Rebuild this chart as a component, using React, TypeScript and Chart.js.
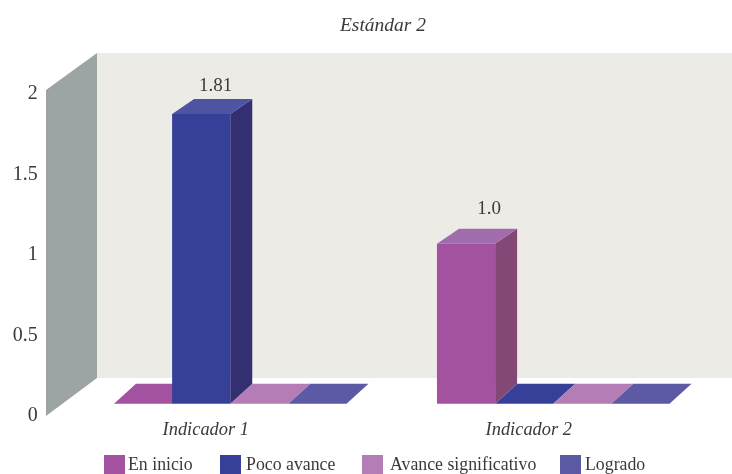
import React, { useEffect, useRef } from "react";
import { Chart, registerables } from "chart.js";

Chart.register(...registerables);

const TITLE = "Estándar 2";
const categories = ["Indicador 1", "Indicador 2"];
const enInicio = [0, 1.0];
const pocoAvance = [1.81, 0];
const avanceSignificativo = [0, 0];
const logrado = [0, 0];
const valueLabels: Record<string, string> = { "1.81": "1.81", "1": "1.0" };

const SERIF = "'Liberation Serif', serif";
const TEXT = "#3a3a3a";

// front, side and top face colours of each series
const faces = [
  { front: "#A2529F", side: "#844877", top: "#A06CAC", labelDx: 23, labelLift: 35 },
  { front: "#364099", side: "#342F71", top: "#4D55A2", labelDx: 14.5, labelLift: 28 },
  { front: "#B57DB6", side: "#97679A", top: "#C093C2", labelDx: 0, labelLift: 30 },
  { front: "#5C59A5", side: "#494785", top: "#7270B2", labelDx: 0, labelLift: 30 },
];

// legend swatch and text offsets along the bottom row
const legendSlots = [
  { swatch: 104, text: 128 },
  { swatch: 220, text: 246 },
  { swatch: 362, text: 390 },
  { swatch: 560, text: 585 },
];

const DEPTH_X = 22;
const DEPTH_TOP = 15;
const DEPTH_FLOOR = 20;

function poly(ctx: CanvasRenderingContext2D, pts: number[][], fill: string) {
  ctx.fillStyle = fill;
  ctx.beginPath();
  pts.forEach(([x, y], i) => (i ? ctx.lineTo(x, y) : ctx.moveTo(x, y)));
  ctx.closePath();
  ctx.fill();
}

const stage = {
  id: "stage",
  beforeDraw(chart: any) {
    const { ctx, chartArea: a, width } = chart;
    // back wall and left wall
    ctx.save();
    ctx.fillStyle = "#ECEBE6";
    ctx.fillRect(97, a.top - 41, width - 97, a.bottom - a.top + 3);
    poly(ctx, [[46, a.top - 4], [97, a.top - 41], [97, a.bottom - 38], [46, a.bottom]], "#9CA4A4");
    // title
    ctx.fillStyle = TEXT;
    ctx.font = `italic 19.5px ${SERIF}`;
    ctx.textAlign = "center";
    ctx.textBaseline = "middle";
    ctx.fillText(TITLE, 383, 26);
    // legend
    ctx.font = `17.8px ${SERIF}`;
    ctx.textAlign = "left";
    chart.data.datasets.forEach((ds: any, i: number) => {
      const slot = legendSlots[i];
      ctx.fillStyle = ds.backgroundColor;
      ctx.fillRect(slot.swatch, 455, 21, 19);
      ctx.fillStyle = TEXT;
      ctx.fillText(ds.label, slot.text, 465);
    });
    ctx.restore();
  },
  beforeDatasetsDraw(chart: any) {
    const { ctx } = chart;
    ctx.save();
    const each = (fn: (bar: any, i: number, value: number) => void) =>
      chart.data.datasets.forEach((ds: any, i: number) =>
        chart.getDatasetMeta(i).data.forEach((bar: any, j: number) => fn(bar, i, ds.data[j]))
      );
    // floor tiles of empty bars sit underneath everything else
    each((bar, i, value) => {
      if (value !== 0) return;
      const l = bar.x - bar.width / 2;
      const r = bar.x + bar.width / 2;
      const b = bar.base;
      poly(ctx, [[l, b], [r, b], [r + DEPTH_X, b - DEPTH_FLOOR], [l + DEPTH_X, b - DEPTH_FLOOR]], faces[i].front);
    });
    // side and top faces of raised bars
    each((bar, i, value) => {
      if (value === 0) return;
      const r = bar.x + bar.width / 2;
      const l = bar.x - bar.width / 2;
      const t = bar.y;
      const b = bar.base;
      poly(ctx, [[r, t], [r + DEPTH_X, t - DEPTH_TOP], [r + DEPTH_X, b - DEPTH_FLOOR], [r, b]], faces[i].side);
      poly(ctx, [[l, t], [l + DEPTH_X, t - DEPTH_TOP], [r + DEPTH_X, t - DEPTH_TOP], [r, t]], faces[i].top);
    });
    ctx.restore();
  },
  afterDatasetsDraw(chart: any) {
    const { ctx } = chart;
    ctx.save();
    ctx.fillStyle = TEXT;
    ctx.font = `19px ${SERIF}`;
    ctx.textAlign = "center";
    ctx.textBaseline = "middle";
    chart.data.datasets.forEach((ds: any, i: number) =>
      chart.getDatasetMeta(i).data.forEach((bar: any, j: number) => {
        const value = ds.data[j];
        if (value === 0) return;
        ctx.fillText(valueLabels[String(value)], bar.x + faces[i].labelDx, bar.y - faces[i].labelLift);
      })
    );
    ctx.restore();
  },
};

export default function App() {
  const ref = useRef<HTMLCanvasElement>(null);
  useEffect(() => {
    const seriesValues = [enInicio, pocoAvance, avanceSignificativo, logrado];
    const names = ["En inicio", "Poco avance", "Avance significativo", "Logrado"];
    const chart = new Chart(ref.current!, {
      type: "bar",
      plugins: [stage],
      data: {
        labels: categories,
        datasets: names.map((label, i) => ({
          label,
          data: seriesValues[i],
          yAxisID: "yBars",
          backgroundColor: faces[i].front,
          borderWidth: 0,
          categoryPercentage: 0.72,
          barPercentage: 1,
        })),
      },
      options: {
        responsive: false,
        animation: false,
        layout: { padding: { top: 94, right: 17.25, bottom: 28, left: 0 } },
        plugins: { legend: { display: false }, title: { display: false }, tooltip: { enabled: false } },
        scales: {
          x: {
            grid: { display: false },
            border: { display: false },
            afterFit: (s: any) => { s.height = 30; },
            ticks: {
              color: TEXT,
              padding: -5,
              labelOffset: -24.5,
              maxRotation: 0,
              font: { family: SERIF, size: 18.4, style: "italic" },
            },
          },
          y: {
            min: 0,
            max: 2,
            position: "left",
            grid: { display: false, drawTicks: false },
            border: { display: false },
            afterFit: (s: any) => { s.width = 68.75; },
            ticks: {
              stepSize: 0.5,
              color: TEXT,
              padding: 31,
              callback: (v: number) => String(v),
              font: { family: SERIF, size: 20 },
            },
          },
          // bars stand on the floor, slightly above the axis zero
          yBars: { display: false, min: -0.0769, max: 1.9356 },
        },
      },
    } as any);
    return () => chart.destroy();
  }, []);
  return (
    <div style={{ position: "absolute", left: 0, top: 0, width: 732, height: 474 }}>
      <canvas ref={ref} width={732} height={474} style={{ display: "block" }} />
    </div>
  );
}
